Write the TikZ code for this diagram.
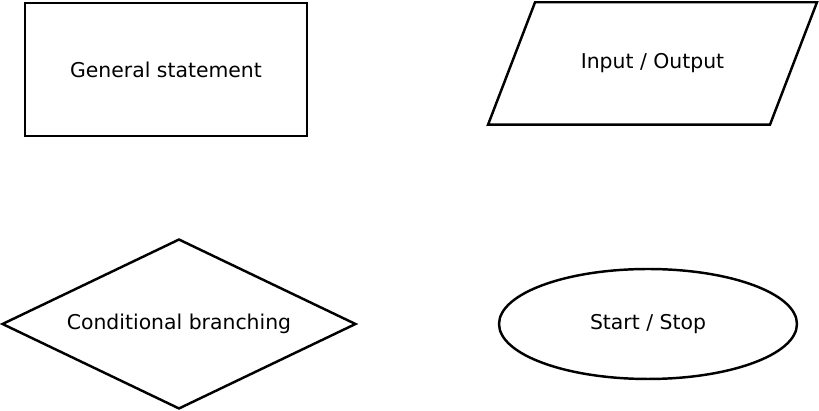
\documentclass[tikz,border=0pt]{standalone}
\usepackage{fontspec}
\setmainfont{DejaVu Sans}
\usetikzlibrary{shapes.geometric}

\tikzset{
    block/.style={draw, line width=1.4pt, font=\fontsize{11.6}{13}\selectfont, inner sep=0pt},
}

\begin{document}
\begin{tikzpicture}[x=0.02cm,y=-0.02cm]
        \useasboundingbox (0,0) rectangle (819,411);
        \node[block, rectangle, minimum width=5.64cm, minimum height=2.66cm] (stmt) at (166,69.5) {General statement};
        \node[block, trapezium, trapezium left angle=69, trapezium right angle=111,
              trapezium stretches body=true, minimum width=6.58cm,
              text height=8.5pt, text depth=2.5pt, inner ysep=29.35pt] (io) at (652.5,63.5) {Input / Output};
        \node[block, diamond, shape aspect=2.08, minimum width=7.08cm, minimum height=3.4cm] (cond) at (179,324) {Conditional branching};
        \node[block, ellipse, minimum width=5.96cm, minimum height=2.2cm] (term) at (648,324) {Start / Stop};
    \end{tikzpicture}
\end{document}
